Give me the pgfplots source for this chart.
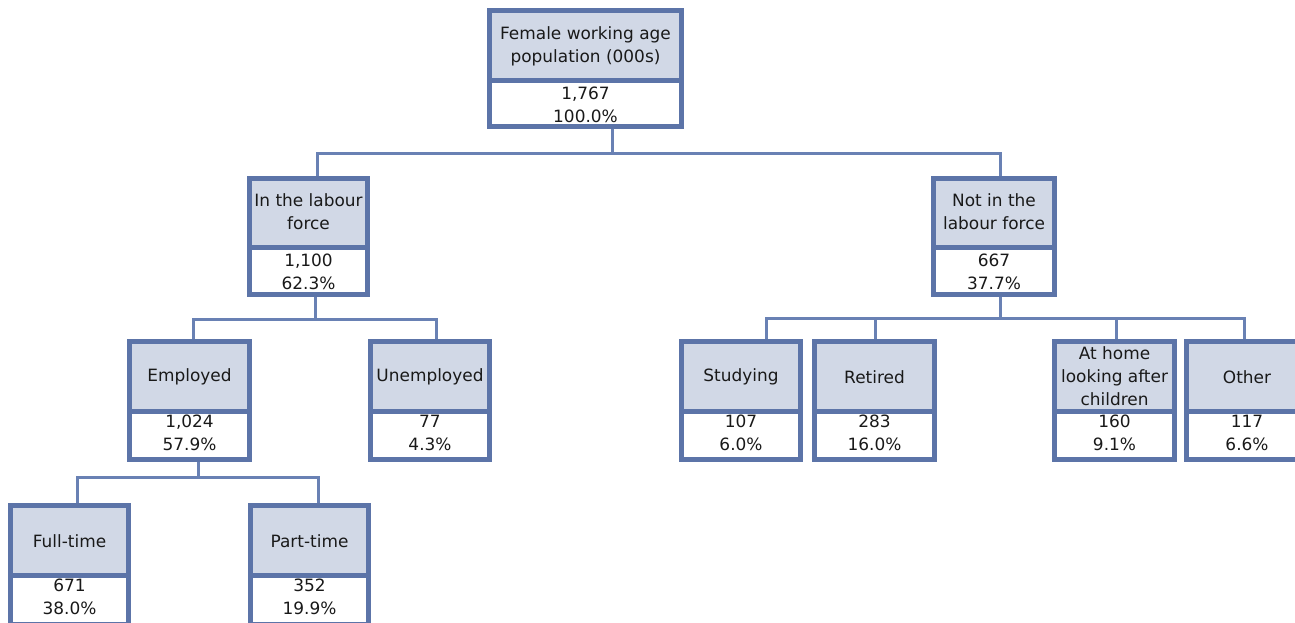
\documentclass[border=0pt]{standalone}
\usepackage{pgfplots}
\pgfplotsset{compat=1.18}
\usepackage{fontspec}
\setmainfont{DejaVu Sans}
\definecolor{bd}{RGB}{92,116,168}
\definecolor{hdr}{RGB}{209,216,230}
\definecolor{cn}{RGB}{105,129,180}
\definecolor{tx}{RGB}{25,25,25}
\tikzset{txt/.style={align=center, text=tx, inner sep=0pt, font=\fontsize{17}{23}\selectfont}}
% x1 x2 ytop ydiv ybot xc yc1 label
\newcommand{\tbox}[8]{%
  \fill[hdr] (axis cs:#1,#3) rectangle (axis cs:#2,#4);
  \fill[white] (axis cs:#1,#4) rectangle (axis cs:#2,#5);
  \draw[bd, line width=5bp] ([xshift=2.5bp,yshift=-2.5bp]axis cs:#1,#3) rectangle ([xshift=-2.5bp,yshift=2.5bp]axis cs:#2,#5);
  \draw[bd, line width=5bp] (axis cs:#1,#4) -- (axis cs:#2,#4);
  \node[txt] at (axis cs:#6,#7) {#8};
}
\newcommand{\tval}[3]{\node[txt] at (axis cs:#1,#2) {#3};}
\begin{document}
\begin{tikzpicture}
\begin{axis}[
  width=1295bp, height=622bp, scale only axis,
  xmin=0, xmax=1295, ymin=0, ymax=622, y dir=reverse,
  hide axis, clip=true,
]
\addplot[draw=none] coordinates {(0,0) (1295,622)};
% connectors
\addplot[cn, line width=3bp] coordinates {(612,129) (612,153)};
\addplot[cn, line width=3bp] coordinates {(317,176) (317,153) (1000,153) (1000,176)};
\addplot[cn, line width=3bp] coordinates {(315,297) (315,319)};
\addplot[cn, line width=3bp] coordinates {(193,339) (193,319) (436,319) (436,339)};
\addplot[cn, line width=3bp] coordinates {(1000,297) (1000,318)};
\addplot[cn, line width=3bp] coordinates {(766,339) (766,318) (1244,318) (1244,339)};
\addplot[cn, line width=3bp] coordinates {(875,318) (875,339)};
\addplot[cn, line width=3bp] coordinates {(1116,318) (1116,339)};
\addplot[cn, line width=3bp] coordinates {(198,462) (198,477)};
\addplot[cn, line width=3bp] coordinates {(77,503) (77,477) (318,477) (318,503)};
% boxes
\tbox{487}{684}{8}{81}{129}{585.5}{46}{Female working age\\population (000s)}
\tval{585.5}{105}{1,767\\100.0\%}
\tbox{247}{370}{176}{247}{297}{308.5}{212}{In the labour\\force}
\tval{308.5}{272}{1,100\\62.3\%}
\tbox{931}{1057}{176}{247}{297}{994}{212}{Not in the\\labour force}
\tval{994}{272}{667\\37.7\%}
\tbox{127}{252}{339}{411}{462}{189.5}{377}{Employed}
\tval{189.5}{433}{1,024\\57.9\%}
\tbox{368}{492}{339}{411}{462}{430}{377}{Unemployed}
\tval{430}{433}{77\\4.3\%}
\tbox{679}{803}{339}{411}{462}{741}{377}{Studying}
\tval{741}{433}{107\\6.0\%}
\tbox{812}{937}{339}{411}{462}{874.5}{377}{Retired}
\tval{874.5}{433}{283\\16.0\%}
\tbox{1052}{1177}{339}{411}{462}{1114.5}{376}{At home\\looking after\\children}
\tval{1114.5}{433}{160\\9.1\%}
\tbox{1184}{1302}{339}{411}{462}{1247}{377}{Other}
\tval{1247}{433}{117\\6.6\%}
\tbox{8}{131}{503}{575}{627}{69.5}{541}{Full-time}
\tval{69.5}{597}{671\\38.0\%}
\tbox{248}{371}{503}{575}{627}{309.5}{541}{Part-time}
\tval{309.5}{597}{352\\19.9\%}
\end{axis}
\end{tikzpicture}
\end{document}
